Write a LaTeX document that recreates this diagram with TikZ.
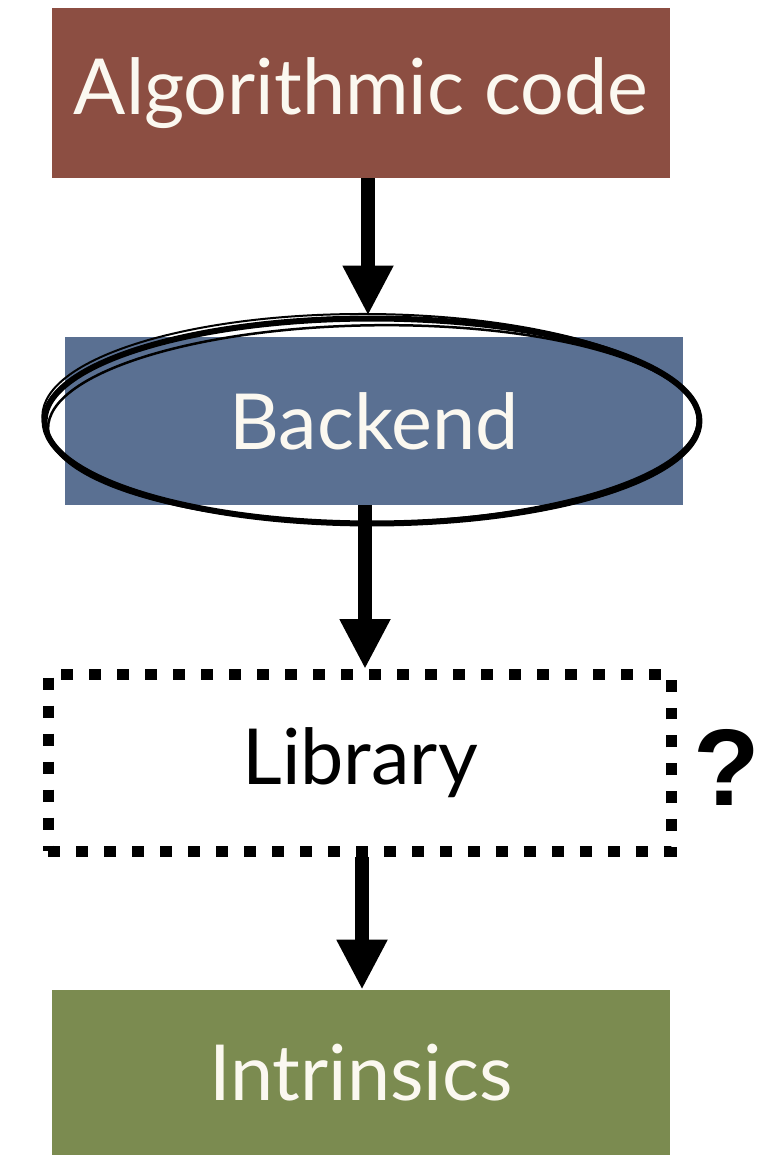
\documentclass[tikz,border=0pt]{standalone}
\usepackage{fontspec}
\setmainfont{Lato}
\usetikzlibrary{shapes.geometric,arrows.meta}

\definecolor{algored}{HTML}{8C4E42}
\definecolor{backblue}{HTML}{5A7092}
\definecolor{intgreen}{HTML}{7B8B50}
\definecolor{boxtext}{HTML}{FBF8F0}

\tikzset{
  stage/.style={rectangle,minimum width=12.36cm,minimum height=3.4cm,inner sep=0pt,
                text=boxtext,font=\fontsize{44}{50}\selectfont},
  flow/.style={line width=0.28cm,-{Triangle[width=0.95cm,length=1.0cm]}},
  sketch/.style={ellipse,draw=black,inner sep=0pt},
}

\begin{document}
\begin{tikzpicture}[x=0.02cm,y=-0.02cm]
	\useasboundingbox (0,0) rectangle (758,1155);
	% the four layers
	\node[stage,fill=algored] (algo) at (361,93) {Algorithmic code};
	\node[stage,fill=backblue,minimum height=3.36cm] (backend) at (374,421) {Backend};
	\node[stage,text=black,minimum width=12.48cm,minimum height=3.54cm,
	      draw=black,line width=0.22cm,dash pattern=on 0.24cm off 0.32cm] (lib) at (360,763) {Library};
	\node[stage,fill=intgreen,minimum height=3.3cm] (intr) at (361,1072.5) {Intrinsics};
	\node[inner sep=0pt,font=\fontspec{Liberation Sans}\bfseries\fontsize{62}{64}\selectfont] (ask) at (727,767) {?};

	% hand drawn ring round the backend
	\node[sketch,line width=0.12cm,minimum width=13.1cm,minimum height=4.1cm] (ring) at (372,421) {};
	\node[sketch,line width=0.05cm,minimum width=13.0cm,minimum height=3.95cm,rotate=0.8] (ring2) at (373,424) {};
	\node[sketch,line width=0.04cm,minimum width=13.15cm,minimum height=4.2cm,rotate=-0.5] (ring3) at (371,419) {};

	% arrows
	\draw[flow] (algo.south -| 368,0) -- (ring.north -| 368,0);
	\draw[flow] (backend.south -| 365,0) -- (lib.north -| 365,0);
	\draw[flow] (lib.south -| 362,0) -- (intr.north -| 362,0);
\end{tikzpicture}
\end{document}
